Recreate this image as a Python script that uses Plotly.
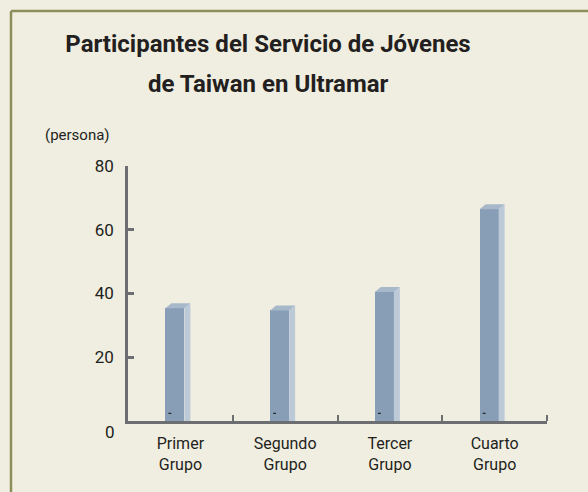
import plotly.graph_objects as go

title_lines = ["Participantes del Servicio de Jóvenes", "de Taiwan en Ultramar"]
categories = ["Primer<br>Grupo", "Segundo<br>Grupo", "Tercer<br>Grupo", "Cuarto<br>Grupo"]
values = [35.4, 34.7, 40.5, 66.4]
y_ticks = [0, 20, 40, 60, 80]

W, H = 588, 492
L, R, T, B = 128, 41, 166, 71
pw, ph = W - L - R, H - T - B

x_pos = list(range(len(categories)))
px_per_x = pw / 4.0
px_per_y = ph / 80.0

bar_off = -15 / px_per_x
bar_w = 19 / px_per_x
dx = 6 / px_per_x
dy = 5 / px_per_y

FRONT = "#879eb6"
SIDE = "#bccad8"
TOP = "#a7b8ca"
AXIS = "#6d6e71"
BG = "#f0eee0"
FONT = "Roboto, Liberation Sans, sans-serif"
TXT = "#231f20"

fig = go.Figure()
fig.add_trace(go.Bar(x=x_pos, y=values, offset=bar_off, width=bar_w,
                     marker=dict(color=FRONT, line=dict(width=0)), hoverinfo="skip"))

shapes = []
for i, v in enumerate(values):
    xl = i + bar_off
    xr = xl + bar_w
    shapes.append(dict(type="path", xref="x", yref="y",
                       path=f"M{xr},0 L{xr+dx},0 L{xr+dx},{v+dy} L{xr},{v} Z",
                       fillcolor=SIDE, line=dict(width=0), layer="above"))
    shapes.append(dict(type="path", xref="x", yref="y",
                       path=f"M{xl},{v} L{xl+dx},{v+dy} L{xr+dx},{v+dy} L{xr},{v} Z",
                       fillcolor=TOP, line=dict(width=0), layer="above"))

# small dash marks near bar bases
fig.add_trace(go.Scatter(x=[i + bar_off + 4.5 / px_per_x for i in x_pos],
                         y=[2.4] * len(values), mode="markers",
                         marker=dict(symbol="line-ew", size=2, line=dict(width=1.2, color="#222")),
                         hoverinfo="skip"))

# frame
fx0 = (11 - L) / pw
fy1 = 1 + (T - 11) / ph
shapes.append(dict(type="line", xref="paper", yref="paper", x0=fx0, x1=fx0, y0=fy1, y1=-(B + 5) / ph,
                   line=dict(color="#8e8e5c", width=2.5)))
shapes.append(dict(type="line", xref="paper", yref="paper", x0=fx0, x1=1 + (R + 5) / pw, y0=fy1, y1=fy1,
                   line=dict(color="#8e8e5c", width=2.5)))

annotations = [
    dict(text="<b>" + title_lines[1] + "</b>", xref="paper", yref="paper", x=(268 - L) / pw,
         y=1 + (T - 84) / ph, xanchor="center", yanchor="middle", showarrow=False,
         font=dict(family=FONT, size=24, color=TXT)),
    dict(text="(persona)", xref="paper", yref="paper", x=(43 - L) / pw, y=1 + (166 - 135) / ph,
         xanchor="left", yanchor="middle", showarrow=False, font=dict(family=FONT, size=15, color=TXT)),
    dict(text=str(y_ticks[0]), xref="paper", yref="y", x=0, y=0, xanchor="right", yanchor="middle",
         xshift=-11, yshift=-11, showarrow=False, font=dict(family=FONT, size=17, color=TXT)),
]

fig.update_layout(
    width=W, height=H,
    margin=dict(l=L, r=R, t=T, b=B),
    paper_bgcolor=BG, plot_bgcolor=BG,
    showlegend=False,
    title=dict(text="<b>" + title_lines[0] + "</b>",
               x=268 / W, xanchor="center", y=1 - 44 / H, yanchor="middle",
               font=dict(family=FONT, size=24, color=TXT)),
    xaxis=dict(range=[-0.5, 3.5], tickvals=x_pos, ticktext=categories, ticks="",
               showline=True, linecolor=AXIS, linewidth=2.5, showgrid=False, zeroline=False,
               ticklabelstandoff=6,
               tickfont=dict(family=FONT, size=16, color=TXT),
               minor=dict(tickvals=[0.5, 1.5, 2.5, 3.5], ticks="inside", ticklen=6, tickwidth=2, tickcolor=AXIS),
               fixedrange=True),
    yaxis=dict(range=[0, 80], tickvals=y_ticks, ticktext=[""] + [str(t) for t in y_ticks[1:]],
               ticks="inside", ticklen=6, tickwidth=2.5, tickcolor=AXIS,
               showline=True, linecolor=AXIS, linewidth=2.5, showgrid=False, zeroline=False,
               ticklabelstandoff=8,
               tickfont=dict(family=FONT, size=17, color=TXT), fixedrange=True),
    shapes=shapes,
    annotations=annotations,
    bargap=0,
)

fig.write_html("out.html", config=dict(displayModeBar=False),
               post_script="document.body.style.margin='0';document.body.style.background='#f0eee0';")
